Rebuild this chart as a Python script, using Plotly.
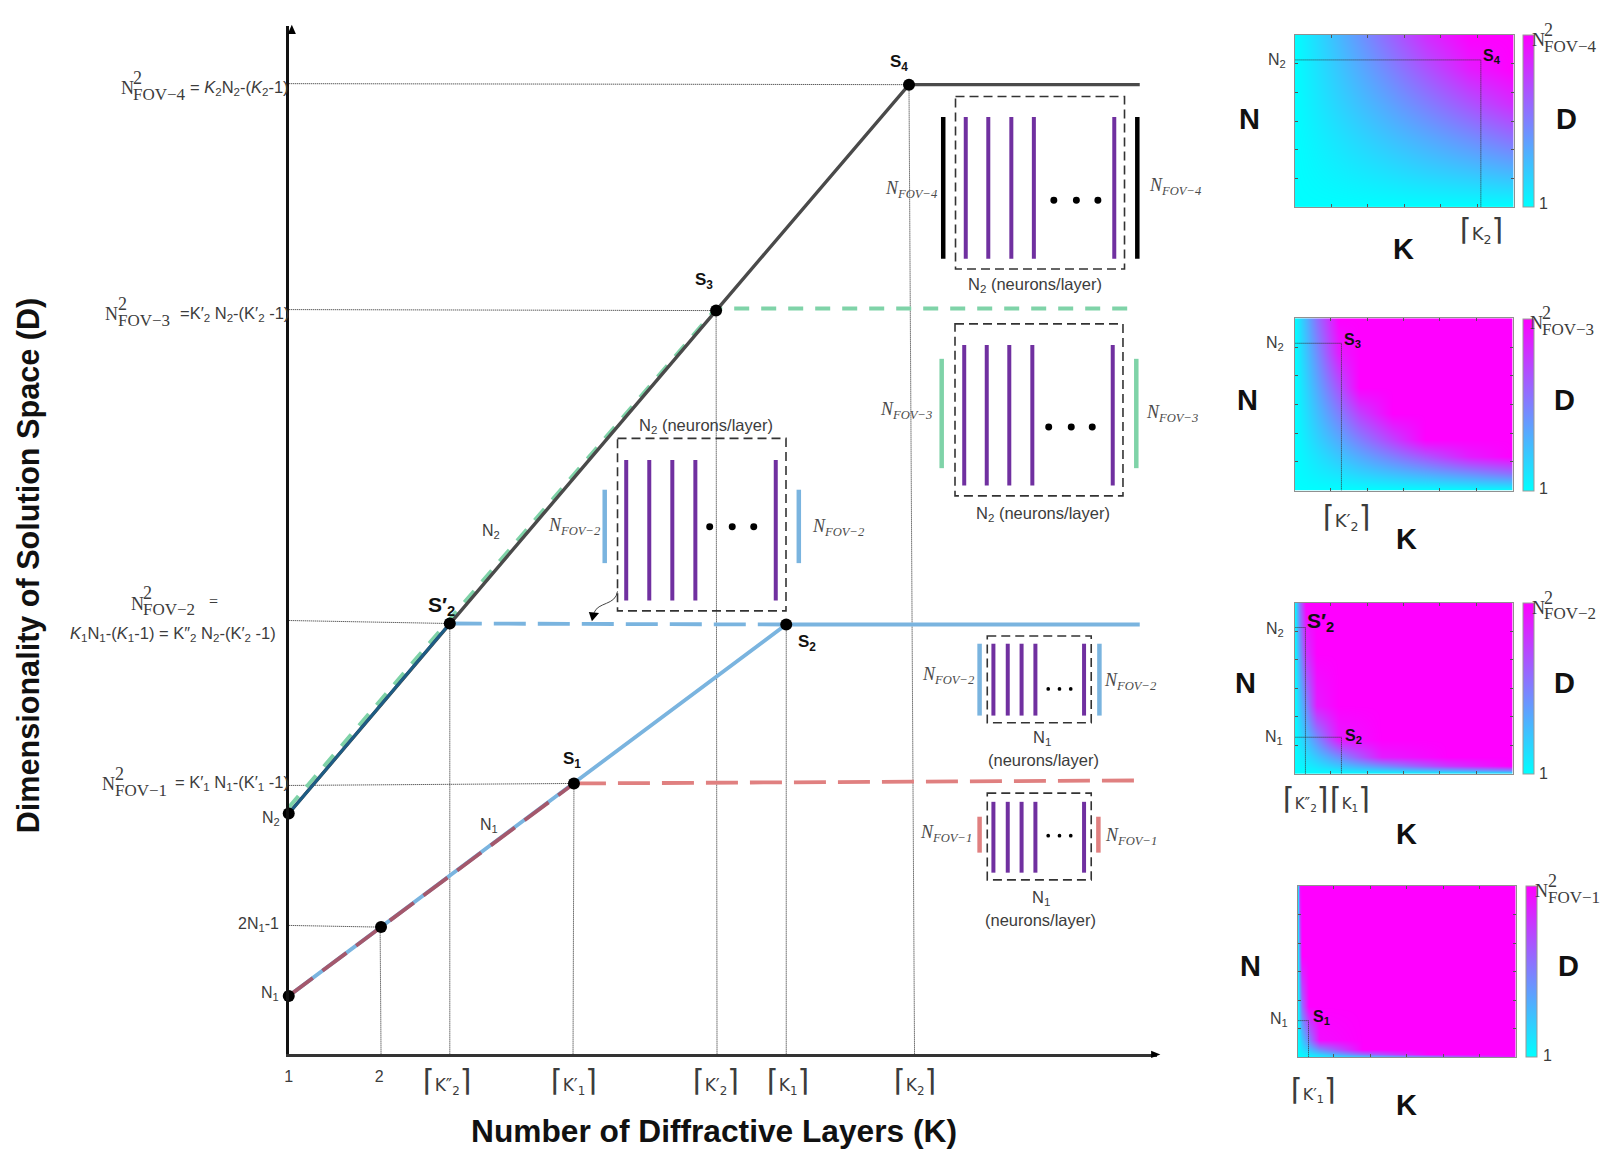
import plotly.graph_objects as go

# ---------- values (arbitrary K / D units) ----------
dark_k = [1.0, 2.745, 5.63, 7.72, 10.22]
dark_d = [24.1, 43.1, 74.4, 97.0, 97.0]
teal_k = [1.0, 2.745]
teal_d = [24.1, 43.1]
green_k = [1.0, 5.63, 10.17]
green_d = [24.7, 74.6, 74.6]
blue_flat_k = [2.745, 6.39]
blue_flat_d = [43.1, 43.0]
blue_solid_k = [1.0, 2.0, 4.09, 6.39, 10.22]
blue_solid_d = [5.85, 12.73, 27.1, 43.0, 43.0]
red_k = [1.0, 2.0, 4.09]
red_d = [5.85, 12.73, 27.1]
red_flat_k = [4.09, 10.22]
red_flat_d = [27.1, 27.4]

point_k = [1.0, 2.0, 4.09, 6.39, 2.745, 1.0, 5.63, 7.72]
point_d = [5.85, 12.73, 27.1, 43.0, 43.1, 24.1, 74.4, 97.0]

# dotted guides: (K at axis, K at point, D at point)
guide_v = [(2.0, 1.99, 12.73), (2.745, 2.745, 43.1), (4.08, 4.09, 27.1),
           (5.64, 5.63, 74.4), (6.39, 6.39, 43.0), (7.78, 7.72, 97.0)]
guide_h = [(1.0, 12.9, 2.0, 12.73), (1.0, 26.9, 4.09, 27.1), (1.0, 43.4, 2.745, 43.1),
           (1.0, 74.5, 5.63, 74.4), (1.0, 97.1, 7.72, 97.0)]

x_tick_vals = [1.0, 1.98]
x_tick_text = ["1", "2"]
x_bracket_vals = [2.72, 4.09, 5.63, 6.41, 7.78]
x_bracket_text = ["K″<sub>2</sub>", "K′<sub>1</sub>", "K′<sub>2</sub>", "K<sub>1</sub>", "K<sub>2</sub>"]

# heat-map grids: fraction of the colour range
h4_k = [0, .2, .4, .6, .8, 1]
h4_n = [0, .2, .4, .6, .8, 1]
h4_z = [[0, 0, 0, 0, 0, 0],
        [0, .056, .11, .17, .22, .28],
        [0, .11, .22, .33, .44, .56],
        [0, .17, .33, .5, .67, .83],
        [0, .22, .44, .67, .89, 1],
        [0, .28, .56, .83, 1, 1]]
h3_k = [0, .1, .2, .3, .45, .6, .8, 1]
h3_n = [0, .1, .2, .3, .45, .6, .8, 1]
h3_z = [[0, 0, 0, 0, 0, 0, 0, 0],
        [0, .06, .11, .17, .25, .33, .44, .56],
        [0, .11, .22, .33, .5, .67, .89, 1],
        [0, .17, .33, .5, .75, 1, 1, 1],
        [0, .25, .5, .75, 1, 1, 1, 1],
        [0, .33, .67, 1, 1, 1, 1, 1],
        [0, .44, .89, 1, 1, 1, 1, 1],
        [0, .56, 1, 1, 1, 1, 1, 1]]
h2_k = [0, .025, .05, .1, .2, .4, .7, 1]
h2_n = [0, .025, .05, .1, .2, .4, .7, 1]
h2_z = [[0, 0, 0, 0, 0, 0, 0, 0],
        [0, .014, .028, .056, .11, .22, .39, .56],
        [0, .028, .056, .11, .22, .44, .78, 1],
        [0, .056, .11, .22, .44, .89, 1, 1],
        [0, .11, .22, .44, .89, 1, 1, 1],
        [0, .22, .44, .89, 1, 1, 1, 1],
        [0, .39, .78, 1, 1, 1, 1, 1],
        [0, .56, 1, 1, 1, 1, 1, 1]]
h1_k = [0, .01, .02, .05, .1, .3, .6, 1]
h1_n = [0, .01, .02, .05, .1, .3, .6, 1]
h1_z = [[0, 0, 0, 0, 0, 0, 0, 0],
        [0, .01, .02, .05, .1, .29, .57, .95],
        [0, .02, .04, .1, .19, .57, 1, 1],
        [0, .05, .1, .24, .48, 1, 1, 1],
        [0, .1, .19, .48, .95, 1, 1, 1],
        [0, .29, .57, 1, 1, 1, 1, 1],
        [0, .57, 1, 1, 1, 1, 1, 1],
        [0, .95, 1, 1, 1, 1, 1, 1]]

cross4_k, cross4_n = [0, .85, .85], [.855, .855, 0]
cross3_k, cross3_n = [0, .215, .215], [.855, .855, 0]
cross2a_k, cross2a_n = [0, .05, .05], [.855, .855, 0]
cross2b_k, cross2b_n = [0, .215, .215], [.215, .215, 0]
cross1_k, cross1_n = [0, .05, .05], [.215, .215, 0]

# ---------- styling / layout (coordinates below are in the 1568x1125 frame) ----------
W, H = 1610, 1155
RW, RH = 1568.0, 1125.0
SANS = "Liberation Sans"
SERIF = "Liberation Serif"
GREY = "#3c3c3c"
DARK = "#4a4a4a"
GREEN = "#7fd3a8"
BLUE = "#7ab4df"
RED = "#e08080"
MAUVE = "#a4586c"
TEAL = "#1d5c85"
PURPLE = "#7030a0"
FINE_DOT = "1px,1px"
BRACKET = '<span style="font-size:30px">⌈</span>{}<span style="font-size:30px">⌉</span>'

px = lambda x: x / RW
py = lambda y: 1 - y / RH

ann = []
shapes = []


def T(x, y, text, size=16, font=SANS, color=GREY, anchor="center", angle=0):
    ann.append(dict(x=px(x), y=py(y), xref="paper", yref="paper", text=text, showarrow=False,
                    font=dict(size=size, family=font, color=color), xanchor=anchor, yanchor="middle",
                    textangle=angle, borderpad=0, borderwidth=0))


def FOV(x, y, idx, size=18):
    T(x, y, "N", size, SERIF, GREY, "left")
    T(x + 12, y - 10, "2", size, SERIF, GREY, "left")
    T(x + 12, y + 6, "FOV−" + idx, size - 1, SERIF, GREY, "left")


def rect(x0, y0, x1, y1, **kw):
    shapes.append(dict(type="rect", xref="paper", yref="paper", x0=px(x0), y0=py(y0), x1=px(x1), y1=py(y1), **kw))


def seg(x0, y0, x1, y1, color, width, dash="solid"):
    shapes.append(dict(type="line", xref="paper", yref="paper", x0=px(x0), y0=py(y0), x1=px(x1), y1=py(y1),
                       line=dict(color=color, width=width, dash=dash)))


def dot(x, y, r):
    shapes.append(dict(type="circle", xref="paper", yref="paper", x0=px(x - r), x1=px(x + r),
                       y0=py(y - r), y1=py(y + r), fillcolor="black", line=dict(width=0)))


def poly(pts, fill="black"):
    d = "M " + " L ".join(f"{px(a):.5f},{py(b):.5f}" for a, b in pts) + " Z"
    shapes.append(dict(type="path", xref="paper", yref="paper", path=d, fillcolor=fill, line=dict(width=0)))


def inset(box, purple_x, py0, py1, bar_x, by0, by1, bar_color, dots, dot_r, labels, idx):
    rect(box[0], box[1], box[2], box[3], line=dict(color="#333333", width=1.6, dash="9px,5px"))
    for xx in purple_x:
        seg(xx, py0, xx, py1, PURPLE, 4)
    for xx in bar_x:
        seg(xx, by0, xx, by1, bar_color, 4.5)
    for (xx, yy) in dots:
        dot(xx, yy, dot_r)
    for (xx, yy) in labels:
        T(xx, yy, f"<i>N<sub>FOV−{idx}</sub></i>", 18, SERIF, "#4a4a4a")


inset((929, 94, 1094, 262), [939, 961, 983.5, 1005.5, 1084], 114, 252, [917, 1106.5], 114, 252, "black",
      [(1025, 195), (1047, 195), (1068, 195)], 3.4, [(886, 185), (1144, 182)], 4)
inset((928.5, 315.5, 1092.5, 483), [937.5, 959.5, 981.5, 1004, 1082.5], 336, 473, [915.5, 1105.5], 349.5, 456, GREEN,
      [(1020, 416), (1042, 416), (1062.5, 416)], 3.4, [(880.5, 400), (1140, 403)], 3)
inset((599, 427, 763.5, 595), [607.5, 630, 652.5, 675, 753.5], 448, 585, [586.5, 776], 477, 548.5, BLUE,
      [(689, 513), (711, 513), (732, 513)], 3.4, [(557, 513), (815, 514)], 2)
inset((960, 619.5, 1061.5, 704), [966, 980, 993.5, 1007, 1054.5], 627, 697, [952.5, 1069.5], 627, 697, BLUE,
      [(1019.5, 671), (1030.5, 671), (1041.5, 671)], 1.8, [(922, 658), (1100, 664)], 2)
inset((960, 772.5, 1061.5, 857), [966, 980, 993.5, 1007, 1054.5], 781, 850, [952.5, 1068.5], 795.5, 830.5, RED,
      [(1019.5, 814), (1030.5, 814), (1041.5, 814)], 1.8, [(920, 812), (1100.5, 815)], 1)

T(1007, 278, "N<sub>2</sub> (neurons/layer)", 16.5)
T(1014.5, 501, "N<sub>2</sub> (neurons/layer)", 16.5)
T(685.5, 415, "N<sub>2</sub> (neurons/layer)", 16.5)
T(1013.5, 719, "N<sub>1</sub>", 16.5)
T(1015, 740, "(neurons/layer)", 16.5)
T(1012, 875, "N<sub>1</sub>", 16.5)
T(1012, 896, "(neurons/layer)", 16.5)

# small curved pointer from the dashed box to the blue line
cx = [(599, 576), (597, 590), (580, 586), (576, 597)]
shapes.append(dict(type="path", xref="paper", yref="paper",
                   path=f"M {px(cx[0][0])},{py(cx[0][1])} C {px(cx[1][0])},{py(cx[1][1])} "
                        f"{px(cx[2][0])},{py(cx[2][1])} {px(cx[3][0])},{py(cx[3][1])}",
                   line=dict(color="#444444", width=1)))
poly([(571, 596), (581, 597), (574, 605)])

# main axis arrows
poly([(277, 33), (285, 33), (281, 24)])
poly([(1120, 1023.5), (1120, 1030.5), (1129, 1027)])

# axis titles
T(693, 1102, "<b>Number of Diffractive Layers (K)</b>", 31.7, SANS, "#111111")
T(24, 551, "<b>Dimensionality of Solution Space (D)</b>", 30.6, SANS, "#111111", angle=-90)

# y labels
FOV(114, 86, "4")
T(278, 86, "= <i>K</i><sub>2</sub>N<sub>2</sub>-(<i>K</i><sub>2</sub>-1)", 16.5, SANS, GREY, "right")
FOV(99, 306, "3")
T(278, 306, "=K′<sub>2</sub> N<sub>2</sub>-(K′<sub>2</sub> -1)", 16.5, SANS, GREY, "right")
FOV(124, 588, "2")
T(200, 586, "=", 16, SERIF, GREY, "left")
T(165, 618, "<i>K</i><sub>1</sub>N<sub>1</sub>-(<i>K</i><sub>1</sub>-1) = K″<sub>2</sub> N<sub>2</sub>-(K′<sub>2</sub> -1)", 16.5)
FOV(96, 764, "1")
T(278, 763, "= K′<sub>1</sub> N<sub>1</sub>-(K′<sub>1</sub> -1)", 16.5, SANS, GREY, "right")
T(261, 797, "N<sub>2</sub>", 16)
T(248, 900, "2N<sub>1</sub>-1", 16)
T(260, 968, "N<sub>1</sub>", 16)
T(475, 518, "N<sub>2</sub>", 16)
T(474, 804, "N<sub>1</sub>", 16)

# point labels
BK = "#111111"
T(874, 61, "<b>S<sub>4</sub></b>", 17, SANS, BK)
T(683, 274, "<b>S<sub>3</sub></b>", 17, SANS, BK)
T(427, 590, "<b>S′<sub>2</sub></b>", 21, SANS, BK)
T(784, 626, "<b>S<sub>2</sub></b>", 17, SANS, BK)
T(555, 740, "<b>S<sub>1</sub></b>", 17, SANS, BK)


def ceil(x, y, inner, size=17):
    T(x, y, BRACKET.format(inner), size, "DejaVu Sans", GREY)


# panel labels
panels = [
    dict(x0=1260, x1=1474, y0=34, y1=202, cb=1483, idx="4", bl=(1216, 116), kl=(1366, 243), dl=(1526, 116), one=(1503, 198), fov=(1492, 39)),
    dict(x0=1260, x1=1473, y0=310, y1=478, cb=1483, idx="3", bl=(1214, 390), kl=(1369, 525), dl=(1524, 390), one=(1503, 476), fov=(1490, 315)),
    dict(x0=1260, x1=1473, y0=587, y1=754, cb=1483, idx="2", bl=(1212, 665), kl=(1369, 812), dl=(1524, 665), one=(1503, 753), fov=(1492, 592)),
    dict(x0=1263, x1=1476, y0=863, y1=1030, cb=1486, idx="1", bl=(1217, 941), kl=(1369, 1076), dl=(1527, 941), one=(1507, 1028), fov=(1495, 868)),
]
for p in panels:
    T(p["bl"][0], p["bl"][1], "<b>N</b>", 29, SANS, BK)
    T(p["kl"][0], p["kl"][1], "<b>K</b>", 29, SANS, BK)
    T(p["dl"][0], p["dl"][1], "<b>D</b>", 29, SANS, BK)
    T(p["one"][0], p["one"][1], "1", 16, SANS, GREY)
    FOV(p["fov"][0], p["fov"][1], p["idx"], 18)

T(1243, 59, "N<sub>2</sub>", 16)
T(1453, 55, "<b>S<sub>4</sub></b>", 16, SANS, BK)
ceil(1443, 224, "K<sub>2</sub>", 18)
T(1241, 335, "N<sub>2</sub>", 16)
T(1317, 332, "<b>S<sub>3</sub></b>", 16, SANS, BK)
ceil(1311, 503, "K′<sub>2</sub>", 18)
T(1241, 613, "N<sub>2</sub>", 16)
T(1240, 718, "N<sub>1</sub>", 16)
T(1285, 606, "<b>S′<sub>2</sub></b>", 21, SANS, BK)
T(1318, 717, "<b>S<sub>2</sub></b>", 16, SANS, BK)
ceil(1271, 778, "K″<sub>2</sub>", 15)
ceil(1314, 778, "K<sub>1</sub>", 15)
T(1245, 993, "N<sub>1</sub>", 16)
T(1286, 991, "<b>S<sub>1</sub></b>", 16, SANS, BK)
ceil(1279, 1061, "K′<sub>1</sub>", 16)

# ---------- figure ----------
fig = go.Figure()


def line(k, d, color, width, dash="solid"):
    fig.add_trace(go.Scatter(x=k, y=d, mode="lines", line=dict(color=color, width=width, dash=dash),
                             hoverinfo="skip", showlegend=False, cliponaxis=False))


for a, b, d in guide_v:
    line([a, b], [0, d], "#222222", 1, FINE_DOT)
for a, d0, b, d1 in guide_h:
    line([a, b], [d0, d1], "#222222", 1, FINE_DOT)

line(green_k, green_d, GREEN, 4, "15px,12px")
line(dark_k, dark_d, DARK, 3.4)
line(teal_k, teal_d, TEAL, 3)
line(blue_flat_k, blue_flat_d, BLUE, 3.8, "32px,12px")
line(blue_solid_k, blue_solid_d, BLUE, 3.8)
line(red_k, red_d, MAUVE, 3.8, "30px,12px")
line(red_flat_k, red_flat_d, RED, 3.8, "32px,12px")

fig.add_trace(go.Scatter(x=point_k, y=point_d, mode="markers", marker=dict(color="black", size=12),
                         hoverinfo="skip", showlegend=False, cliponaxis=False))

cool = [[0, "#00ffff"], [1, "#ff00ff"]]
heat = [(h4_k, h4_n, h4_z), (h3_k, h3_n, h3_z), (h2_k, h2_n, h2_z), (h1_k, h1_n, h1_z)]
cross = [[(cross4_k, cross4_n)], [(cross3_k, cross3_n)], [(cross2a_k, cross2a_n), (cross2b_k, cross2b_n)], [(cross1_k, cross1_n)]]

layout_axes = {}
for i, (p, h, cr) in enumerate(zip(panels, heat, cross)):
    n = i + 2
    xa, ya = f"x{n}", f"y{n}"
    fig.add_trace(go.Heatmap(x=h[0], y=h[1], z=h[2], zmin=0, zmax=1, colorscale=cool, zsmooth="best",
                             xaxis=xa, yaxis=ya, hoverinfo="skip",
                             colorbar=dict(x=px(p["cb"]), xanchor="left", y=py(p["y1"]), yanchor="bottom",
                                           len=(p["y1"] - p["y0"]) / RH, lenmode="fraction",
                                           thickness=11, thicknessmode="pixels", xpad=0, ypad=0,
                                           outlinecolor="#9a9a9a", outlinewidth=1, ticks="", showticklabels=False)))
    for ck, cn in cr:
        fig.add_trace(go.Scatter(x=ck, y=cn, xaxis=xa, yaxis=ya, mode="lines",
                                 line=dict(color="#333333", width=1, dash=FINE_DOT),
                                 hoverinfo="skip", showlegend=False))
    common = dict(range=[0, 1], showgrid=False, zeroline=False, showticklabels=False, ticks="inside", ticklen=3,
                  tickcolor="#555555", tick0=0, dtick=1 / 6, mirror="ticks", showline=True,
                  linecolor="#909090", linewidth=1)
    layout_axes[f"xaxis{n}"] = dict(domain=[px(p["x0"]), px(p["x1"])], anchor=ya, **common)
    layout_axes[f"yaxis{n}"] = dict(domain=[py(p["y1"]), py(p["y0"])], anchor=xa, **common)

# bracketed K labels placed on the main K axis scale
for val, txt in zip(x_bracket_vals, x_bracket_text):
    ann.append(dict(x=val, xref="x", y=py(1052), yref="paper", text=BRACKET.format(txt), showarrow=False,
                    font=dict(family="DejaVu Sans", size=17, color=GREY), xanchor="center", yanchor="middle"))

fig.update_layout(
    width=W, height=H, autosize=False, margin=dict(l=0, r=0, t=0, b=0),
    paper_bgcolor="white", plot_bgcolor="white", showlegend=False,
    xaxis=dict(domain=[px(278), px(1126)], range=[1.0, 10.41], showgrid=False, zeroline=False,
               showline=True, linecolor="#333333", linewidth=2.5, ticks="", tickmode="array",
               tickvals=x_tick_vals, ticktext=x_tick_text, tickangle=0,
               tickfont=dict(family=SANS, size=16, color=GREY), anchor="y", ticklabelstandoff=6),
    yaxis=dict(domain=[py(1027), py(25)], range=[0, 102.9], showgrid=False, zeroline=False,
               showline=True, linecolor="#111111", linewidth=2.5, ticks="", showticklabels=False, anchor="x"),
    annotations=ann, shapes=shapes, **layout_axes)

fig.write_html("out.html", config={"displayModeBar": False},
               post_script="document.body.style.margin='0';document.documentElement.style.overflow='hidden';")
